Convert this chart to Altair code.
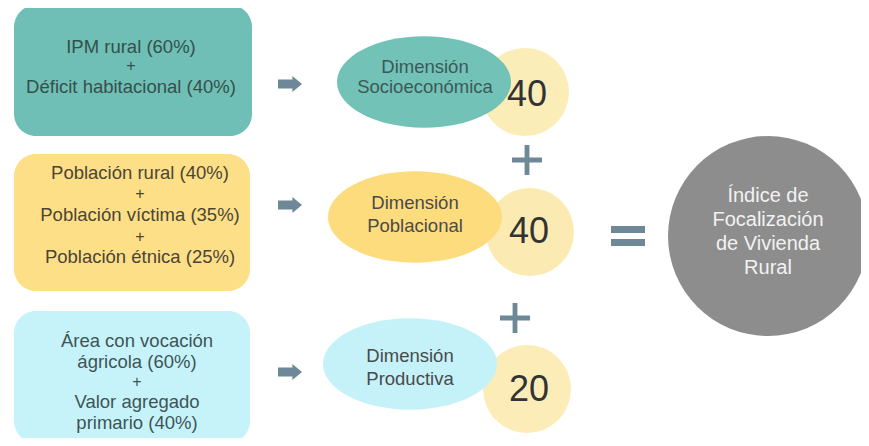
import altair as alt
import pandas as pd

# ---------------- data ----------------
box_ids = ["socio", "pobl", "prod"]
box_left = [14, 14, 14]
box_right = [252, 250, 250]
box_top = [5, 154, 311]
box_bottom = [136, 291, 443]
box_colors = ["#70BFB6", "#FDDF87", "#C6F3FA"]

box_text = [
    "IPM rural (60%)", "Déficit habitacional (40%)",
    "Población  rural (40%)", "Población víctima (35%)", "Población étnica (25%)",
    "Área con vocación", "ágricola (60%)", "Valor agregado", "primario (40%)",
]
box_text_x = [131] * 2 + [140] * 3 + [137] * 4
box_text_y = [47, 87, 173, 215, 257, 341, 362, 402, 423]
box_text_col = ["#34504C"] * 2 + ["#4A4535"] * 3 + ["#3E5455"] * 4

box_plus_x = [131, 140, 140, 137]
box_plus_y = [66, 194, 237, 382]
box_plus_col = ["#34504C", "#4A4535", "#4A4535", "#3E5455"]

arrow_x = [290, 290, 290]
arrow_y = [84, 205, 372]

dim_labels = ["Dimensión", "Socioeconómica", "Dimensión", "Poblacional", "Dimensión", "Productiva"]
dim_text_x = [425, 425, 415, 415, 410, 410]
dim_text_y = [67, 87, 203, 226, 356, 379]
dim_text_col = ["#3D5957", "#3D5957", "#4A4A4A", "#4A4A4A", "#4A4A4A", "#4A4A4A"]

ell_x = [424, 415, 410]
ell_y = [82, 217, 364]
ell_colors = ["#72C2B8", "#FDDC7E", "#C5F2F9"]

weights = ["40", "40", "20"]
weight_x = [525, 530, 527]
weight_y = [92, 232, 389]
weight_text_x = [527, 529, 529]
weight_text_y = [95, 232, 390]
weight_colors = ["#FBEDB8", "#FBEBB3", "#FCEDB8"]

plus_x = [527, 515]
plus_y = [160, 318]

equal_x = [628]
equal_y = [236]

index_lines = ["Índice de", "Focalización", "de Vivienda", "Rural"]
index_x = [768, 768, 768, 768]
index_y = [196, 220, 244, 268]
index_cx = [768]
index_cy = [236]

# ---------------- helpers ----------------
XS = alt.Scale(domain=[8, 861])
YS = alt.Scale(domain=[8, 438], reverse=True)
FONT = "Liberation Sans"


def X(f):
    return alt.X(f, type="quantitative", scale=XS, axis=None)


def Y(f):
    return alt.Y(f, type="quantitative", scale=YS, axis=None)


boxes = pd.DataFrame({"id": box_ids, "x": box_left, "x2": box_right,
                      "y": box_top, "y2": box_bottom, "c": box_colors})
box_layer = alt.Chart(boxes).mark_rect(cornerRadius=22).encode(
    x=X("x"), x2="x2", y=Y("y"), y2="y2",
    color=alt.Color("c:N", scale=None))

btext = pd.DataFrame({"t": box_text, "x": box_text_x, "y": box_text_y, "c": box_text_col})
btext_layer = alt.Chart(btext).mark_text(
    font=FONT, fontSize=18.5, baseline="middle", align="center"
).encode(x=X("x"), y=Y("y"), text="t:N", color=alt.Color("c:N", scale=None))

bplus = pd.DataFrame({"x": box_plus_x, "y": box_plus_y, "c": box_plus_col})
bplus_layer = alt.Chart(bplus).mark_text(
    font=FONT, fontSize=16, baseline="middle", align="center", text="+"
).encode(x=X("x"), y=Y("y"), color=alt.Color("c:N", scale=None))

ARROW = "M -1 -0.375 L 0.2 -0.375 L 0.2 -0.67 L 1 0 L 0.2 0.67 L 0.2 0.375 L -1 0.375 Z"
arrows = pd.DataFrame({"x": arrow_x, "y": arrow_y})
arrow_layer = alt.Chart(arrows).mark_point(
    shape=ARROW, filled=True, opacity=1, color="#6F8898", size=576, strokeWidth=0
).encode(x=X("x"), y=Y("y"))

wc = pd.DataFrame({"x": weight_x, "y": weight_y, "c": weight_colors})
wc_layer = alt.Chart(wc).mark_circle(opacity=1, size=7744).encode(
    x=X("x"), y=Y("y"), color=alt.Color("c:N", scale=None))

ELL = "M -1 0 A 1 0.525 0 1 0 1 0 A 1 0.525 0 1 0 -1 0 Z"
ell = pd.DataFrame({"x": ell_x, "y": ell_y, "c": ell_colors})
ell_layer = alt.Chart(ell).mark_point(
    shape=ELL, filled=True, opacity=1, size=30276, strokeWidth=0
).encode(x=X("x"), y=Y("y"), color=alt.Color("c:N", scale=None))

dtext = pd.DataFrame({"t": dim_labels, "x": dim_text_x, "y": dim_text_y, "c": dim_text_col})
dtext_layer = alt.Chart(dtext).mark_text(
    font=FONT, fontSize=18.5, baseline="middle", align="center"
).encode(x=X("x"), y=Y("y"), text="t:N", color=alt.Color("c:N", scale=None))

wt = pd.DataFrame({"t": weights, "x": weight_text_x, "y": weight_text_y})
wt_layer = alt.Chart(wt).mark_text(
    font=FONT, fontSize=36, color="#333333", baseline="middle", align="center"
).encode(x=X("x"), y=Y("y"), text="t:N")

PLUS = ("M -0.16 -1 L 0.16 -1 L 0.16 -0.16 L 1 -0.16 L 1 0.16 L 0.16 0.16 "
        "L 0.16 1 L -0.16 1 L -0.16 0.16 L -1 0.16 L -1 -0.16 L -0.16 -0.16 Z")
plus = pd.DataFrame({"x": plus_x, "y": plus_y})
plus_layer = alt.Chart(plus).mark_point(
    shape=PLUS, filled=True, opacity=1, color="#6F8898", size=900, strokeWidth=0
).encode(x=X("x"), y=Y("y"))

EQ = "M -1 -0.59 L 1 -0.59 L 1 -0.18 L -1 -0.18 Z M -1 0.18 L 1 0.18 L 1 0.59 L -1 0.59 Z"
eq = pd.DataFrame({"x": equal_x, "y": equal_y})
eq_layer = alt.Chart(eq).mark_point(
    shape=EQ, filled=True, opacity=1, color="#6F8898", size=1156, strokeWidth=0
).encode(x=X("x"), y=Y("y"))

big = pd.DataFrame({"x": index_cx, "y": index_cy})
big_layer = alt.Chart(big).mark_circle(opacity=1, size=40000, color="#8D8D8D").encode(
    x=X("x"), y=Y("y"))

itext = pd.DataFrame({"t": index_lines, "x": index_x, "y": index_y})
itext_layer = alt.Chart(itext).mark_text(
    font=FONT, fontSize=20, color="#F2F2F2", baseline="middle", align="center"
).encode(x=X("x"), y=Y("y"), text="t:N")

chart = alt.layer(
    box_layer, btext_layer, bplus_layer, arrow_layer, wc_layer, ell_layer, dtext_layer,
    wt_layer, plus_layer, eq_layer, big_layer, itext_layer
).properties(
    width=853, height=430, padding=0, autosize=alt.AutoSizeParams(type="none")
).configure_view(stroke=None)

chart.save("out.html", embed_options={"renderer": "svg", "actions": False})
